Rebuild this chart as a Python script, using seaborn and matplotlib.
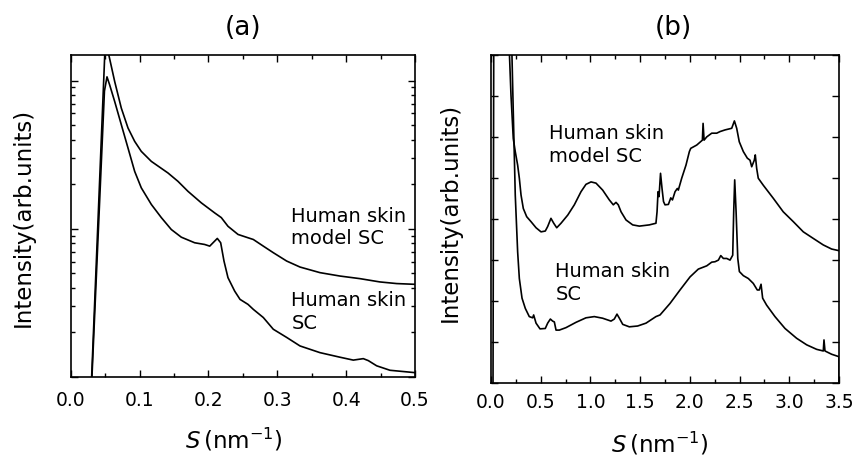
import matplotlib
matplotlib.use("Agg")
import matplotlib.pyplot as plt
from matplotlib.ticker import MultipleLocator, FormatStrFormatter, LogLocator, NullFormatter
import seaborn as sns
import pandas as pd

# ---------------- data ----------------
# Panel (a): log intensity vs S (0-0.5 nm^-1)
s_a_model = [0.0298, 0.0495, 0.0522, 0.0552, 0.0639, 0.0735, 0.0832, 0.0929, 0.1025, 0.1171,
             0.1413, 0.1558, 0.1703, 0.1897, 0.2091, 0.2187, 0.2284, 0.2430, 0.2575, 0.2652,
             0.2797, 0.2942, 0.3136, 0.3330, 0.3620, 0.3910, 0.4200, 0.4490, 0.4734, 0.5000]
i_a_model = [0.85, 152, 185, 150, 98.5, 65.2, 47.9, 38.9, 33.3, 28.5,
             23.8, 20.9, 17.9, 14.96, 12.8, 11.9, 10.4, 9.16, 8.70, 8.47,
             7.64, 6.90, 6.06, 5.52, 5.06, 4.80, 4.61, 4.38, 4.27, 4.22]

s_a_sc = [0.0302, 0.0490, 0.0527, 0.0566, 0.0639, 0.0735, 0.0832, 0.0929, 0.1025, 0.1171,
          0.1316, 0.1461, 0.1606, 0.1800, 0.1945, 0.2019, 0.2067, 0.2129, 0.2178, 0.2226,
          0.2284, 0.2381, 0.2459, 0.2575, 0.2652, 0.2797, 0.2942, 0.3136, 0.3330, 0.3620,
          0.3910, 0.4104, 0.4249, 0.4322, 0.4443, 0.4637, 0.5000]
i_a_sc = [0.85, 85, 106, 93.5, 72.2, 50.4, 35.1, 24.4, 18.9, 14.6,
          11.9, 9.89, 8.78, 8.05, 7.84, 7.64, 8.05, 8.61, 8.05, 6.06,
          4.68, 3.80, 3.34, 3.09, 2.86, 2.52, 2.10, 1.85, 1.62, 1.46,
          1.36, 1.30, 1.33, 1.29, 1.19, 1.11, 1.07]

# Panel (b): linear intensity vs S (0-3.5 nm^-1)
s_b_model = [0.178, 0.201, 0.224, 0.244, 0.268, 0.285, 0.302, 0.325, 0.359, 0.402,
             0.453, 0.503, 0.546, 0.570, 0.603, 0.631, 0.661, 0.704, 0.772, 0.838,
             0.905, 0.955, 1.006, 1.056, 1.123, 1.190, 1.230, 1.257, 1.280, 1.308,
             1.358, 1.425, 1.492, 1.592, 1.659, 1.670, 1.680, 1.690, 1.705, 1.720,
             1.735, 1.750, 1.784, 1.808, 1.825, 1.851, 1.874, 1.884, 1.918, 1.961,
             1.995, 2.009, 2.069, 2.126, 2.133, 2.143, 2.170, 2.220, 2.270, 2.304,
             2.354, 2.421, 2.448, 2.471, 2.497, 2.538, 2.578, 2.605, 2.622, 2.648,
             2.658, 2.672, 2.688, 2.738, 2.839, 2.939, 3.040, 3.141, 3.241, 3.342,
             3.426, 3.500]
i_b_model = [8.5, 7.02, 5.96, 5.64, 5.31, 4.99, 4.58, 4.25, 4.05, 3.93,
             3.78, 3.68, 3.70, 3.81, 4.01, 3.89, 3.78, 3.89, 4.09, 4.34,
             4.66, 4.84, 4.90, 4.87, 4.70, 4.46, 4.34, 4.40, 4.34, 4.17,
             3.97, 3.85, 3.82, 3.85, 3.89, 4.17, 4.66, 4.54, 5.11, 4.74,
             4.42, 4.34, 4.35, 4.51, 4.46, 4.66, 4.74, 4.70, 4.99, 5.31,
             5.64, 5.72, 5.80, 5.92, 6.33, 5.92, 6.00, 6.09, 6.09, 6.13,
             6.17, 6.21, 6.39, 6.21, 5.88, 5.64, 5.48, 5.43, 5.27, 5.43,
             5.56, 5.23, 4.99, 4.82, 4.50, 4.17, 3.93, 3.68, 3.52, 3.36,
             3.26, 3.22]

s_b_sc = [0.020, 0.028, 0.205, 0.224, 0.244, 0.268, 0.285, 0.312, 0.345, 0.385,
          0.419, 0.429, 0.453, 0.493, 0.546, 0.570, 0.597, 0.620, 0.637, 0.654,
          0.687, 0.754, 0.855, 0.955, 1.039, 1.123, 1.207, 1.240, 1.267, 1.291,
          1.325, 1.391, 1.475, 1.559, 1.659, 1.700, 1.800, 1.901, 2.002, 2.085,
          2.170, 2.220, 2.253, 2.287, 2.311, 2.337, 2.371, 2.404, 2.431, 2.441,
          2.451, 2.465, 2.482, 2.498, 2.538, 2.588, 2.638, 2.678, 2.698, 2.716,
          2.732, 2.772, 2.856, 2.957, 3.074, 3.175, 3.275, 3.342, 3.349, 3.359,
          3.426, 3.500, 3.5001]
i_b_sc = [-0.3, 8.6, 8.6, 6.61, 4.58, 3.19, 2.54, 2.06, 1.81, 1.61,
          1.58, 1.65, 1.45, 1.31, 1.32, 1.45, 1.55, 1.50, 1.48, 1.28,
          1.28, 1.34, 1.47, 1.58, 1.61, 1.57, 1.50, 1.55, 1.67, 1.57,
          1.42, 1.36, 1.38, 1.45, 1.61, 1.65, 1.93, 2.26, 2.58, 2.77,
          2.85, 2.94, 2.95, 2.99, 3.10, 3.03, 3.03, 2.99, 3.11, 4.17,
          4.95, 4.17, 3.03, 2.71, 2.61, 2.54, 2.42, 2.26, 2.26, 2.40,
          2.06, 1.89, 1.61, 1.32, 1.08, 0.92, 0.81, 0.77, 1.04, 0.77,
          0.69, 0.63, -0.2]

label_model = "Human skin\nmodel SC"
label_sc = "Human skin\nSC"
xlabel = r"$\mathit{S}\,(\mathrm{nm}^{-1})$"
ylabel = "Intensity(arb.units)"
xticks_a = [0.0, 0.1, 0.2, 0.3, 0.4, 0.5]
xticks_b = [0.0, 0.5, 1.0, 1.5, 2.0, 2.5, 3.0, 3.5]

# ---------------- style ----------------
sns.set_style("ticks")
plt.rcParams["font.family"] = ["DejaVu Sans"]
plt.rcParams["mathtext.fontset"] = "dejavusans"
for k in ["text.color", "axes.labelcolor", "xtick.color", "ytick.color", "axes.edgecolor"]:
    plt.rcParams[k] = "black"

W, H = 854, 459
fig = plt.figure(figsize=(W / 100, H / 100), dpi=100)

ax_a = fig.add_axes([70.7 / W, 1 - 377 / H, 344.3 / W, 322.5 / H])
ax_b = fig.add_axes([491 / W, 1 - 382.5 / H, 348 / W, 327.5 / H])

lw = 1.2
df_am = pd.DataFrame({"S": s_a_model, "I": i_a_model})
df_as = pd.DataFrame({"S": s_a_sc, "I": i_a_sc})
df_bm = pd.DataFrame({"S": s_b_model, "I": i_b_model})
df_bs = pd.DataFrame({"S": s_b_sc, "I": i_b_sc})
for df, ax in [(df_am, ax_a), (df_as, ax_a), (df_bm, ax_b), (df_bs, ax_b)]:
    sns.lineplot(data=df, x="S", y="I", ax=ax, color="black", lw=lw,
                 sort=False, estimator=None)

# panel (a)
ax_a.set_yscale("log")
ax_a.set_xlim(0, 0.5)
ax_a.set_ylim(1.0, 150)
ax_a.set_xticks(xticks_a)
ax_a.xaxis.set_minor_locator(MultipleLocator(0.05))
ax_a.xaxis.set_major_formatter(FormatStrFormatter("%.1f"))
ax_a.yaxis.set_major_locator(LogLocator(base=10))
ax_a.yaxis.set_minor_locator(LogLocator(base=10, subs=range(2, 10)))
ax_a.yaxis.set_minor_formatter(NullFormatter())

# panel (b)
ax_b.set_xlim(0, 3.5)
ax_b.set_ylim(0, 8)
ax_b.set_xticks(xticks_b)
ax_b.xaxis.set_minor_locator(MultipleLocator(0.25))
ax_b.xaxis.set_major_formatter(FormatStrFormatter("%.1f"))
ax_b.yaxis.set_major_locator(MultipleLocator(1))

for ax, pad in [(ax_a, 10), (ax_b, 7.5)]:
    ax.set_xlabel("")
    ax.set_ylabel("")
    for sp in ax.spines.values():
        sp.set_visible(True)
        sp.set_linewidth(1.2)
        sp.set_color("black")
    ax.tick_params(which="both", direction="in", top=True, right=True,
                   labelleft=False, width=1.0, color="black", labelcolor="black")
    ax.tick_params(which="major", length=5, labelsize=13.5, pad=pad)
    ax.tick_params(which="minor", length=3)

# labels & annotations
fs_ann = 14
ax_a.text(0.641, 0.528, label_model, transform=ax_a.transAxes, fontsize=fs_ann,
          va="top", ha="left", linespacing=1.25)
ax_a.text(0.641, 0.266, label_sc, transform=ax_a.transAxes, fontsize=fs_ann,
          va="top", ha="left", linespacing=1.25)
ax_b.text(0.168, 0.788, label_model, transform=ax_b.transAxes, fontsize=fs_ann,
          va="top", ha="left", linespacing=1.25)
ax_b.text(0.185, 0.368, label_sc, transform=ax_b.transAxes, fontsize=fs_ann,
          va="top", ha="left", linespacing=1.25)

fig.text(243 / W, 1 - 28 / H, "(a)", ha="center", va="center", fontsize=19)
fig.text(673 / W, 1 - 28 / H, "(b)", ha="center", va="center", fontsize=19)
fig.text(234 / W, 1 - 440 / H, xlabel, ha="center", va="center", fontsize=16.5)
fig.text(660 / W, 1 - 444 / H, xlabel, ha="center", va="center", fontsize=16.5)
fig.text(23 / W, 1 - 217.5 / H, ylabel, ha="center", va="center", rotation=90, fontsize=16.5)
fig.text(450 / W, 1 - 212.5 / H, ylabel, ha="center", va="center", rotation=90, fontsize=16.5)

fig.savefig("out.png", dpi=100)
